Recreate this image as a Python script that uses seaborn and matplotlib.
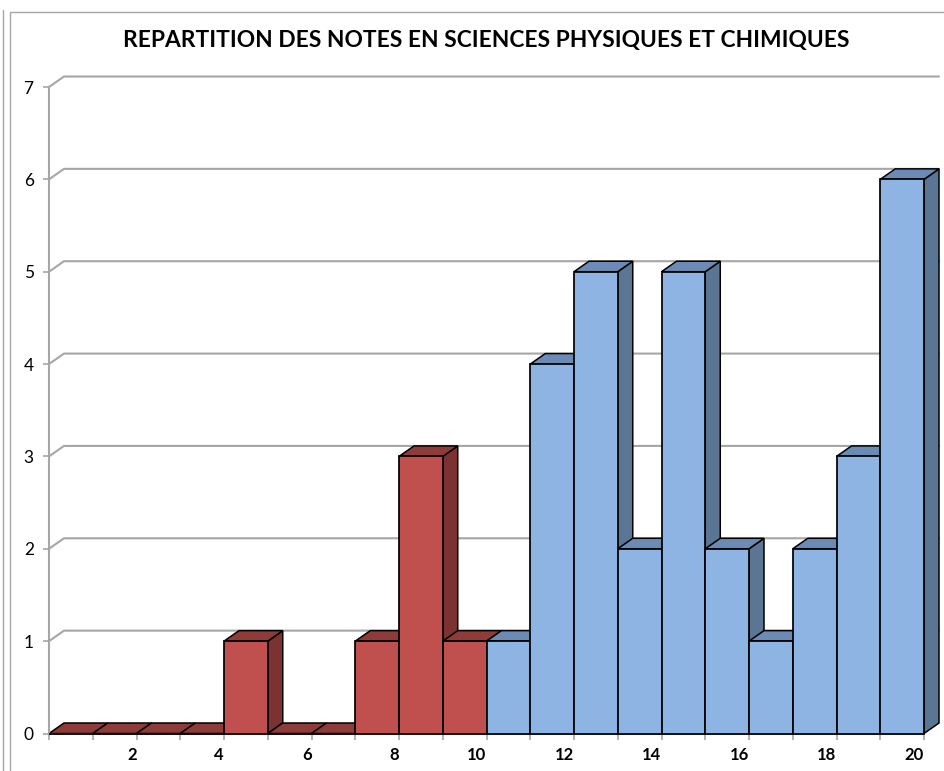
import matplotlib
matplotlib.use("Agg")
import matplotlib.pyplot as plt
from matplotlib.lines import Line2D
import pandas as pd
import seaborn as sns

# --- Data ---
BIN_START = [0, 1, 2, 3, 4, 5, 6, 7, 8, 9, 10, 11, 12, 13, 14, 15, 16, 17, 18, 19]
COUNTS = [0, 0, 0, 0, 1, 0, 0, 1, 3, 1, 1, 4, 5, 2, 5, 2, 1, 2, 3, 6]
GROUPS = ["low"] * 10 + ["high"] * 10
Y_TICKS = [0, 1, 2, 3, 4, 5, 6, 7]
X_LABELS = [2, 4, 6, 8, 10, 12, 14, 16, 18, 20]
TITLE = "REPARTITION DES NOTES EN SCIENCES PHYSIQUES ET CHIMIQUES"

# --- Colours ---
FRONT = {"low": "#C0504D", "high": "#8DB4E2"}
TOP = {"low": "#8F3B39", "high": "#6B8BB5"}
SIDE = {"low": "#7C3230", "high": "#5B7594"}
GRID = "#A6A6A6"

# --- Layout (pixels of the 944x771 canvas) ---
W, H = 944, 771
LEFT, RIGHT, BASE, TOP_Y = 49, 924, 733.5, 87
DEPTH_X = 15 / ((RIGHT - LEFT) / 20)
DEPTH_Y = 10.5 / ((BASE - TOP_Y) / 7)
BACK_END = 20 + DEPTH_X

sns.set_theme(style="white")
plt.rcParams["font.family"] = ["Lato", "DejaVu Sans"]

fig = plt.figure(figsize=(W / 100, H / 100), dpi=100)
ax = fig.add_axes([LEFT / W, 1 - BASE / H, (RIGHT - LEFT) / W, (BASE - TOP_Y) / H])

df = pd.DataFrame({"note": [b + 0.5 for b in BIN_START], "count": COUNTS, "group": GROUPS})
sns.barplot(data=df, x="note", y="count", hue="group", palette=FRONT, native_scale=True,
            width=1, dodge=False, saturation=1, edgecolor="black", linewidth=1.25, legend=False,
            ax=ax, clip_on=False)
ax.set_xlim(0, 20)
ax.set_ylim(0, 7)

# back wall: gridlines with the diagonal that goes back from the y axis
for y in Y_TICKS[1:]:
    ax.plot([0, DEPTH_X, BACK_END], [y, y + DEPTH_Y, y + DEPTH_Y], color=GRID, lw=1.5,
            clip_on=False, zorder=1, solid_joinstyle="miter")

# front faces stay on top of everything further left
for patch in ax.patches:
    patch.set_zorder(3 + 2 * patch.get_x())

# 3D faces of each bar, painted left to right
for start, count, group in zip(BIN_START, COUNTS, GROUPS):
    z = 2 + 2 * start
    ax.fill([start, start + 1, start + 1 + DEPTH_X, start + DEPTH_X],
            [count, count, count + DEPTH_Y, count + DEPTH_Y],
            facecolor=TOP[group], edgecolor="black", lw=1.1, clip_on=False, zorder=z + 0.5)
    if count > 0:
        ax.fill([start + 1, start + 1 + DEPTH_X, start + 1 + DEPTH_X, start + 1],
                [0, DEPTH_Y, count + DEPTH_Y, count],
                facecolor=SIDE[group], edgecolor="black", lw=1.1, clip_on=False, zorder=z)

sns.despine(ax=ax, top=True, right=True, bottom=False, left=False)
ax.spines["left"].set_color(GRID)
ax.spines["left"].set_linewidth(1.5)
ax.spines["bottom"].set_color(GRID)
ax.spines["bottom"].set_linewidth(1.5)

ax.set_xlabel("")
ax.set_ylabel("")
ax.set_yticks(Y_TICKS)
ax.set_xticks(X_LABELS, labels=[str(v) for v in X_LABELS])
ax.set_xticks(BIN_START, minor=True)
ax.tick_params(axis="y", left=True, length=4, width=1.2, color=GRID, labelsize=12.5,
               labelcolor="black", pad=7)
ax.tick_params(axis="x", which="both", bottom=True, length=4, width=1.2, color=GRID)
ax.tick_params(axis="x", which="major", labelsize=12, labelcolor="black", pad=6)
# labels sit flush against the left of their tick
for label in ax.get_xticklabels():
    label.set_fontweight("bold")
    label.set_ha("right")

fig.text(486.5 / W, 1 - 41 / H, TITLE, ha="center", va="center", fontsize=16.4,
         fontweight="bold", color="black")

# chart frame left by the spreadsheet
frame = "#A6A6A6"
fig.add_artist(Line2D([3 / W, 3 / W], [0, 1 - 10 / H], color=frame, lw=1))
fig.add_artist(Line2D([10 / W, 10 / W, 1], [0, 1 - 12 / H, 1 - 12 / H], color=frame, lw=1))

fig.savefig("out.png", dpi=100)
